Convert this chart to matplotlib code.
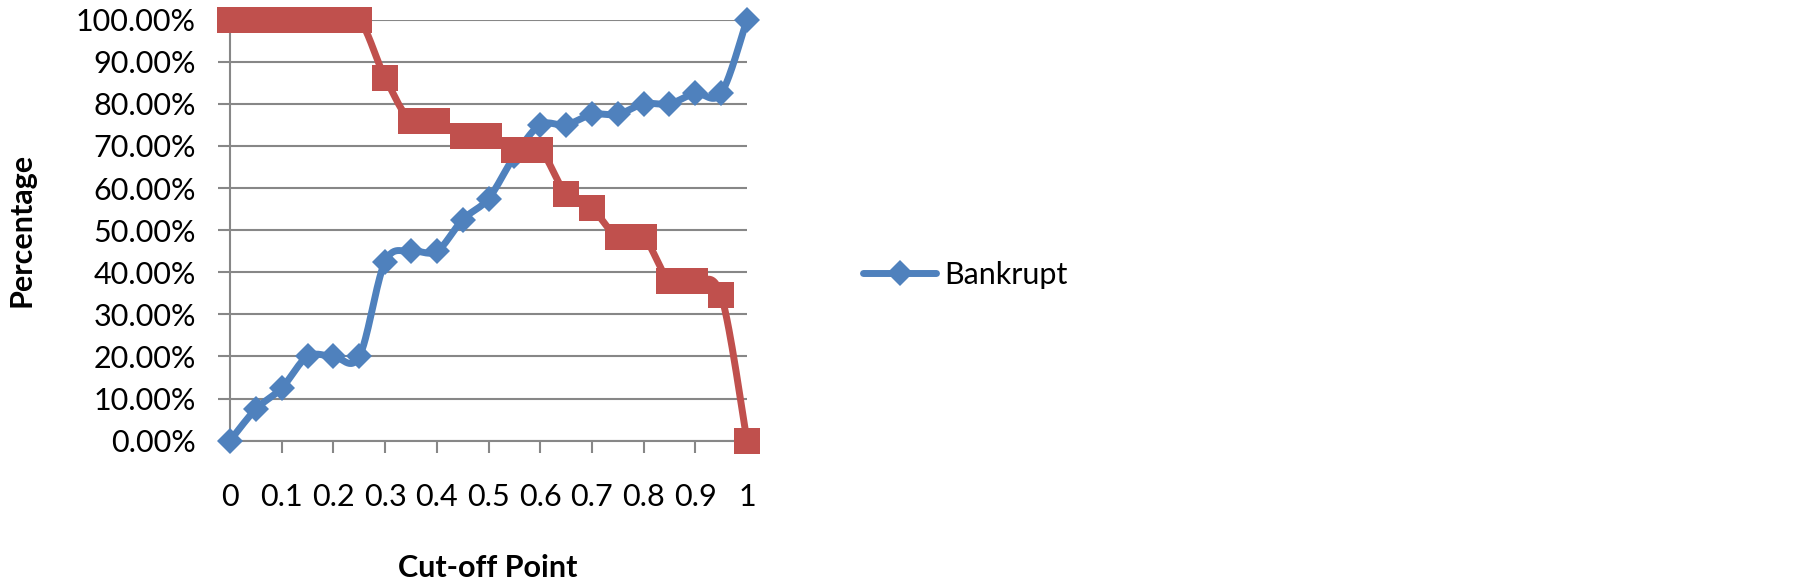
import numpy as np
import matplotlib
matplotlib.use("Agg")
import matplotlib.pyplot as plt
from matplotlib.ticker import FuncFormatter
from matplotlib.lines import Line2D

# ---- data ----
cutoff = [0.00, 0.05, 0.10, 0.15, 0.20, 0.25, 0.30, 0.35, 0.40, 0.45, 0.50,
          0.55, 0.60, 0.65, 0.70, 0.75, 0.80, 0.85, 0.90, 0.95, 1.00]
bankrupt = [0.000, 0.075, 0.125, 0.200, 0.200, 0.200, 0.425, 0.450, 0.450, 0.525, 0.575,
            0.675, 0.750, 0.750, 0.775, 0.775, 0.800, 0.800, 0.825, 0.825, 1.000]
non_bankrupt = [1.000, 1.000, 1.000, 1.000, 1.000, 1.000, 0.862, 0.759, 0.759, 0.724, 0.724,
                0.690, 0.690, 0.586, 0.552, 0.483, 0.483, 0.379, 0.379, 0.345, 0.000]
x_ticks = [0, 0.1, 0.2, 0.3, 0.4, 0.5, 0.6, 0.7, 0.8, 0.9, 1]
y_ticks = [0, 0.1, 0.2, 0.3, 0.4, 0.5, 0.6, 0.7, 0.8, 0.9, 1.0]

BLUE = "#4F81BD"
RED = "#C0504D"
GRID = "#878787"
FONT = "Lato"
LW = 5.0


def smooth(xs, ys, n=30):
    """Excel-like smoothed line: cubic Bezier through points (Catmull-Rom)."""
    P = np.column_stack([xs, ys]).astype(float)
    out = [P[0]]
    t = np.linspace(0, 1, n)[1:]
    for i in range(len(P) - 1):
        p0 = P[i - 1] if i > 0 else P[i]
        p1 = P[i]
        p2 = P[i + 1]
        p3 = P[i + 2] if i + 2 < len(P) else P[i + 1]
        c1 = p1 + (p2 - p0) / 6.0
        c2 = p2 - (p3 - p1) / 6.0
        for tt in t:
            b = ((1 - tt) ** 3) * p1 + 3 * ((1 - tt) ** 2) * tt * c1 \
                + 3 * (1 - tt) * tt ** 2 * c2 + tt ** 3 * p2
            out.append(b)
    out = np.array(out)
    return out[:, 0], out[:, 1]


W, H = 1805, 582
fig = plt.figure(figsize=(W / 100, H / 100), dpi=100)
x0, x1 = 230, 747
ytop, ybot = 19.6, 440.7
ax = fig.add_axes([x0 / W, 1 - ybot / H, (x1 - x0) / W, (ybot - ytop) / H])

ax.set_xlim(0, 1)
ax.set_ylim(0, 1)

ax.set_yticks(y_ticks)
ax.set_xticks(x_ticks)
ax.yaxis.grid(True, color=GRID, linewidth=1.5, zorder=0)
ax.xaxis.grid(False)
ax.set_axisbelow(True)

for s in ["top", "right"]:
    ax.spines[s].set_visible(False)
for s in ["left", "bottom"]:
    ax.spines[s].set_color(GRID)
    ax.spines[s].set_linewidth(1.5)

ax.tick_params(axis="both", direction="out", length=8.5, width=1.5, color=GRID,
               labelsize=22)
ax.tick_params(axis="y", pad=16)
ax.tick_params(axis="x", pad=22)
ax.yaxis.set_major_formatter(FuncFormatter(lambda v, p: f"{v*100:.2f}%"))
ax.xaxis.set_major_formatter(FuncFormatter(lambda v, p: f"{v:g}"))
for lab in ax.get_xticklabels() + ax.get_yticklabels():
    lab.set_fontfamily(FONT)

# series
bx, by = smooth(cutoff, bankrupt)
ax.plot(bx, by, color=BLUE, linewidth=LW, solid_capstyle="round", zorder=3, clip_on=False)
ax.plot(cutoff, bankrupt, linestyle="none", marker="D", markersize=13, color=BLUE,
        markeredgewidth=0, zorder=4, clip_on=False)

rx, ry = smooth(cutoff, non_bankrupt)
ax.plot(rx, ry, color=RED, linewidth=LW, solid_capstyle="round", zorder=5, clip_on=False)
ax.plot(cutoff, non_bankrupt, linestyle="none", marker="s", markersize=19, color=RED,
        markeredgewidth=0, zorder=6, clip_on=False)

# axis titles
fig.text(22 / W, 1 - 230 / H, "Percentage", rotation=90, ha="center", va="center",
         fontsize=22, fontweight="bold", family=FONT)
fig.text(488 / W, 1 - 568 / H, "Cut-off Point", ha="center", va="center",
         fontsize=22, fontweight="bold", family=FONT)

# legend
handle = Line2D([], [], color=BLUE, linewidth=LW, marker="D", markersize=13,
                markeredgewidth=0, solid_capstyle="round")
fig.legend([handle], ["Bankrupt"], loc="center left",
           bbox_to_anchor=(863 / W, 1 - 275 / H), frameon=False,
           borderpad=0, borderaxespad=0, handlelength=2.4, handletextpad=0.25,
           prop={"family": FONT, "size": 22})

fig.savefig("out.png", dpi=100)
